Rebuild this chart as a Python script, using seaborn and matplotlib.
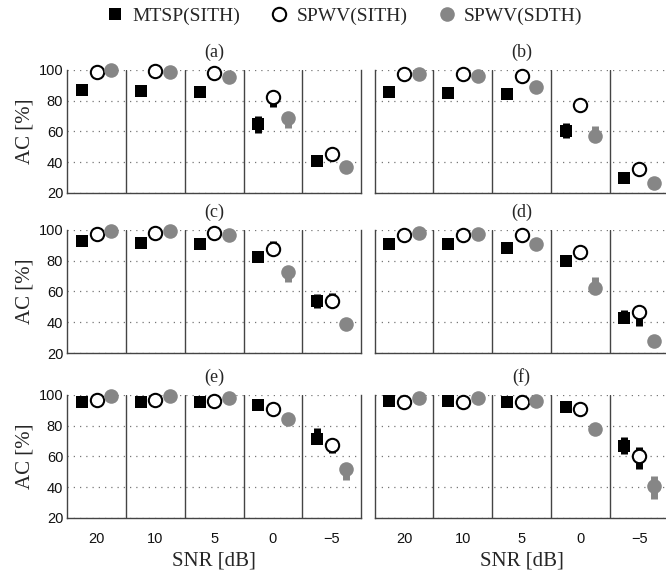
import numpy as np
import pandas as pd
import matplotlib
matplotlib.use("Agg")
import matplotlib.pyplot as plt
from matplotlib.lines import Line2D
import seaborn as sns

# ---------------------------------------------------------------- data
snr_labels = ["20", "10", "5", "0", "\u22125"]
panel_labels = ["(a)", "(b)", "(c)", "(d)", "(e)", "(f)"]
series_names = ["MTSP(SITH)", "SPWV(SITH)", "SPWV(SDTH)"]

# mean accuracy [%]; one row per panel (a)-(f), columns follow snr_labels
mtsp_sith = [
    [87.0, 86.0, 85.5, 64.5, 41.0],
    [85.5, 85.0, 84.0, 60.5, 29.5],
    [92.5, 91.5, 90.5, 82.0, 54.0],
    [91.0, 90.5, 88.0, 79.5, 43.0],
    [95.0, 95.3, 95.0, 93.0, 71.5],
    [96.0, 96.0, 95.0, 92.0, 67.0],
]
spwv_sith = [
    [98.5, 99.0, 98.0, 82.5, 45.5],
    [97.2, 97.4, 95.8, 77.0, 35.3],
    [97.5, 97.8, 98.0, 87.5, 54.0],
    [96.6, 96.8, 96.6, 85.5, 46.5],
    [96.5, 96.8, 96.2, 90.5, 67.5],
    [95.0, 95.0, 95.2, 91.0, 60.0],
]
spwv_sdth = [
    [99.5, 98.5, 95.5, 68.5, 37.0],
    [97.5, 96.0, 88.5, 57.0, 26.5],
    [99.4, 99.0, 96.5, 72.5, 39.0],
    [98.0, 97.5, 91.0, 62.0, 28.0],
    [99.0, 99.2, 98.0, 84.0, 52.0],
    [97.6, 97.6, 95.8, 78.0, 41.0],
]

# error bar lengths below / above the mean
mtsp_sith_lo = [
    [0, 0, 0, 5.5, 0], [0, 0, 0, 5.0, 0], [0, 0, 0, 0, 4.5],
    [0, 0, 0, 0, 0], [0, 0, 0, 0, 0], [0, 0, 0, 0, 5.5],
]
mtsp_sith_hi = [
    [0, 0, 0, 5.5, 0], [0, 0, 0, 5.0, 0], [0, 0, 0, 0, 4.5],
    [0, 0, 0, 0, 5.0], [0, 0, 0, 0, 7.0], [0, 0, 0, 0, 5.5],
]
spwv_sith_lo = [
    [0, 0, 0, 7.0, 0], [0, 0, 0, 0, 0], [0, 0, 0, 0, 0],
    [0, 0, 0, 0, 9.0], [0, 0, 0, 0, 5.5], [0, 0, 0, 0, 8.5],
]
spwv_sith_hi = [
    [0, 0, 0, 0, 0], [0, 0, 0, 0, 0], [0, 0, 0, 5.5, 5.0],
    [0, 0, 0, 0, 0], [0, 0, 0, 0, 0], [0, 0, 0, 0, 6.0],
]
spwv_sdth_lo = [
    [0, 0, 0, 6.5, 0], [0, 0, 0, 0, 0], [0, 0, 0, 6.5, 0],
    [0, 0, 0, 0, 0], [0, 0, 0, 0, 7.5], [0, 0, 0, 0, 8.5],
]
spwv_sdth_hi = [
    [0, 0, 0, 0, 0], [0, 0, 0, 6.5, 0], [0, 0, 0, 0, 0],
    [0, 0, 0, 7.0, 0], [0, 0, 0, 0, 0], [0, 0, 0, 0, 6.0],
]

# ---------------------------------------------------------------- long table
means = {"MTSP(SITH)": mtsp_sith, "SPWV(SITH)": spwv_sith, "SPWV(SDTH)": spwv_sdth}
lows = {"MTSP(SITH)": mtsp_sith_lo, "SPWV(SITH)": spwv_sith_lo, "SPWV(SDTH)": spwv_sdth_lo}
highs = {"MTSP(SITH)": mtsp_sith_hi, "SPWV(SITH)": spwv_sith_hi, "SPWV(SDTH)": spwv_sdth_hi}
offsets = {"MTSP(SITH)": -0.25, "SPWV(SITH)": 0.0, "SPWV(SDTH)": 0.25}

rows = []
for p, panel in enumerate(panel_labels):
    for s in series_names:
        for g in range(len(snr_labels)):
            rows.append(dict(panel=panel, series=s, group=g + 1,
                             x=g + 1 + offsets[s],
                             ac=means[s][p][g], lo=lows[s][p][g], hi=highs[s][p][g]))
df = pd.DataFrame(rows)

# ---------------------------------------------------------------- style
sns.set_theme(style="white")
plt.rcParams["font.family"] = ["Liberation Serif", "DejaVu Serif"]
SANS = ["Liberation Sans", "DejaVu Sans"]
GRAY = "#868686"
EDGE = "#444444"

styles = {
    "MTSP(SITH)": dict(marker="s", s=84, color="black", edgecolor="black", linewidth=0),
    "SPWV(SITH)": dict(marker="o", s=92, color="white", edgecolor="black", linewidth=1.5),
    "SPWV(SDTH)": dict(marker="o", s=110, color=GRAY, edgecolor=GRAY, linewidth=0),
}
bar_colors = {"MTSP(SITH)": "black", "SPWV(SITH)": "black", "SPWV(SDTH)": GRAY}

fig = plt.figure(figsize=(6.66, 5.73), dpi=100)

col_x = [0.1011, 0.5626]
row_y = [0.6632, 0.3839, 0.0960]
W, H = 0.4411, 0.2152

for p, panel in enumerate(panel_labels):
    r, c = divmod(p, 2)
    ax = fig.add_axes([col_x[c], row_y[r], W, H])
    sub = df[df.panel == panel]

    for s in series_names:
        d = sub[sub.series == s]
        e = d[(d.lo > 0) | (d.hi > 0)]
        if len(e):
            ax.errorbar(e.x, e.ac, yerr=[e.lo, e.hi], fmt="none",
                        ecolor=bar_colors[s], elinewidth=5, capsize=0, zorder=2)
        sns.scatterplot(data=d, x="x", y="ac", ax=ax, legend=False,
                        clip_on=False, zorder=3, **styles[s])

    ax.set_xlim(0.5, 5.5)
    ax.set_ylim(20, 100)
    for b in np.arange(1.5, 5.0, 1.0):
        ax.axvline(b, color=EDGE, lw=1.0, zorder=1)

    ax.set_yticks([20, 40, 60, 80, 100])
    ax.set_xticks(range(1, 6))
    ax.yaxis.grid(True, linestyle=(0, (1, 4)), color="#777777", lw=0.9)
    ax.xaxis.grid(False)
    ax.set_axisbelow(True)

    ax.spines["top"].set_visible(False)
    for sp in ("left", "right", "bottom"):
        ax.spines[sp].set_color(EDGE)
        ax.spines[sp].set_linewidth(1.0)

    ax.tick_params(axis="both", direction="in", length=3, width=0.8, color=EDGE)
    ax.tick_params(axis="x", pad=10)
    ax.tick_params(axis="y", pad=3)

    if c == 0:
        ax.set_yticklabels([str(v) for v in [20, 40, 60, 80, 100]],
                           family=SANS, fontsize=10.5, color="#111111")
        ax.set_ylabel("AC [%]", fontsize=15, labelpad=3)
    else:
        ax.set_yticklabels([])
        ax.set_ylabel("")

    if r == 2:
        ax.set_xticklabels(snr_labels, family=SANS, fontsize=10.5, color="#111111")
        ax.set_xlabel("SNR [dB]", fontsize=15, labelpad=4)
    else:
        ax.set_xticklabels([])
        ax.set_xlabel("")

    ax.set_title(panel, fontsize=13, pad=9)

# figure-level legend across the top
handles = [
    Line2D([], [], linestyle="none", marker="s", markersize=9.2,
           markerfacecolor="black", markeredgecolor="black", markeredgewidth=0),
    Line2D([], [], linestyle="none", marker="o", markersize=9.6,
           markerfacecolor="white", markeredgecolor="black", markeredgewidth=1.5),
    Line2D([], [], linestyle="none", marker="o", markersize=10.5,
           markerfacecolor=GRAY, markeredgecolor=GRAY, markeredgewidth=0),
]
fig.legend(handles, series_names, loc="center", bbox_to_anchor=(345 / 666, 1 - 16 / 573),
           ncol=3, frameon=False, fontsize=14, handlelength=0.8,
           handletextpad=0.5, columnspacing=1.6, borderpad=0)

fig.savefig("out.png", dpi=100)
